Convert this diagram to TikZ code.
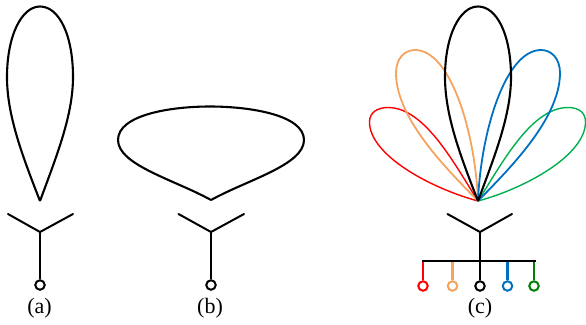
\documentclass[tikz,border=0pt]{standalone}
\usepackage{fontspec}
\setmainfont{Liberation Serif}
\definecolor{cred}{HTML}{FF0000}
\definecolor{corange}{HTML}{F4A460}
\definecolor{cblue}{HTML}{0070C0}
\definecolor{cgreen}{HTML}{00B050}
\definecolor{dgreen}{HTML}{008000}
\tikzset{
  lobe/.style={line width=1.4pt,line join=miter},
  widelobe/.style={line width=1.8pt,line join=miter},
  mainlobe/.style={line width=2.1pt,line join=miter},
  arm/.style={line width=2pt,line cap=round},
  port/.style={circle,draw=#1,fill=white,line width=2pt,minimum size=9.5pt,inner sep=0pt},
  stem/.style={line width=2.4pt},
  caption/.style={font=\fontsize{22}{24}\selectfont,inner sep=0pt}
}
\begin{document}
\begin{tikzpicture}[x=1pt,y=-1pt]
\useasboundingbox (0,0) rectangle (586,324);
% (a)
\draw[mainlobe] (40,201) .. controls (22,155) and (7,115) .. (7,77) .. controls (7,35) and (22,6.5) .. (40,6.5) .. controls (59,6.5) and (73,35) .. (73,77) .. controls (73,115) and (57,155) .. (40,201);
\coordinate (ja) at (40,232);
\coordinate (la) at (8,214);
\coordinate (ra) at (73,214);
\node[port=black] (pa) at (40,285) {};
\draw[arm] (la) -- (ja) -- (ra);
\draw[stem] (ja) -- (pa);
\node[caption] (ca) at (39.5,308) {(a)};
% (b)
\draw[mainlobe] (211,200) .. controls (175,180) and (118,165) .. (118,140) .. controls (118,115) and (170,106.5) .. (210,106.5) .. controls (250,106.5) and (304,115) .. (304,140) .. controls (304,165) and (247,180) .. (211,200);
\coordinate (jb) at (211,232);
\coordinate (lb) at (178.5,214);
\coordinate (rb) at (244,214);
\node[port=black] (pb) at (211,285) {};
\draw[arm] (lb) -- (jb) -- (rb);
\draw[stem] (jb) -- (pb);
\node[caption] (cb) at (210,308) {(b)};
% (c) lobes
\draw[lobe,cred] (478,201) .. controls (430,188) and (369.5,155) .. (369.5,122) .. controls (369.5,112) and (378,107.5) .. (388,107.5) .. controls (425,107.5) and (455,165) .. (478,201);
\draw[widelobe,corange] (478,201) .. controls (450,172) and (396,120) .. (396,73) .. controls (396,58) and (405,50) .. (415,50) .. controls (450,50) and (475,130) .. (478,201);
\draw[lobe,cgreen] (478,201) .. controls (526,188) and (585.5,155) .. (585.5,122) .. controls (585.5,112) and (578,107.5) .. (568,107.5) .. controls (531,107.5) and (501,165) .. (478,201);
\draw[widelobe,cblue] (478,201) .. controls (506,172) and (560,120) .. (560,73) .. controls (560,58) and (551,50) .. (541,50) .. controls (506,50) and (481,130) .. (478,201);
\draw[mainlobe] (478,201) .. controls (460,155) and (445,115) .. (445,77) .. controls (445,35) and (460,6.5) .. (478,6.5) .. controls (497,6.5) and (511,35) .. (511,77) .. controls (511,115) and (495,155) .. (478,201);
% (c) feed
\coordinate (jc) at (480,232);
\coordinate (lc) at (447.5,214);
\coordinate (rc) at (512,214);
\coordinate (bl) at (422,260.5);
\coordinate (br) at (535.5,260.5);
\coordinate (s1) at (423,260.5);
\coordinate (s2) at (452.5,260.5);
\coordinate (s4) at (507.5,260.5);
\coordinate (s5) at (534,260.5);
\node[port=cred] (p1) at (423,286) {};
\node[port=corange] (p2) at (452.5,286) {};
\node[port=black] (p3) at (480,286) {};
\node[port=cblue] (p4) at (507.5,286) {};
\node[port=dgreen] (p5) at (534,286) {};
\draw[arm] (lc) -- (jc) -- (rc);
\draw[stem,cred] (s1) -- (p1);
\draw[stem,corange] (s2) -- (p2);
\draw[stem] (jc) -- (p3);
\draw[stem,cblue] (s4) -- (p4);
\draw[stem,dgreen] (s5) -- (p5);
\draw[line width=2pt] (bl) -- (br);
\node[caption] (cc) at (480,308) {(c)};
\end{tikzpicture}
\end{document}
